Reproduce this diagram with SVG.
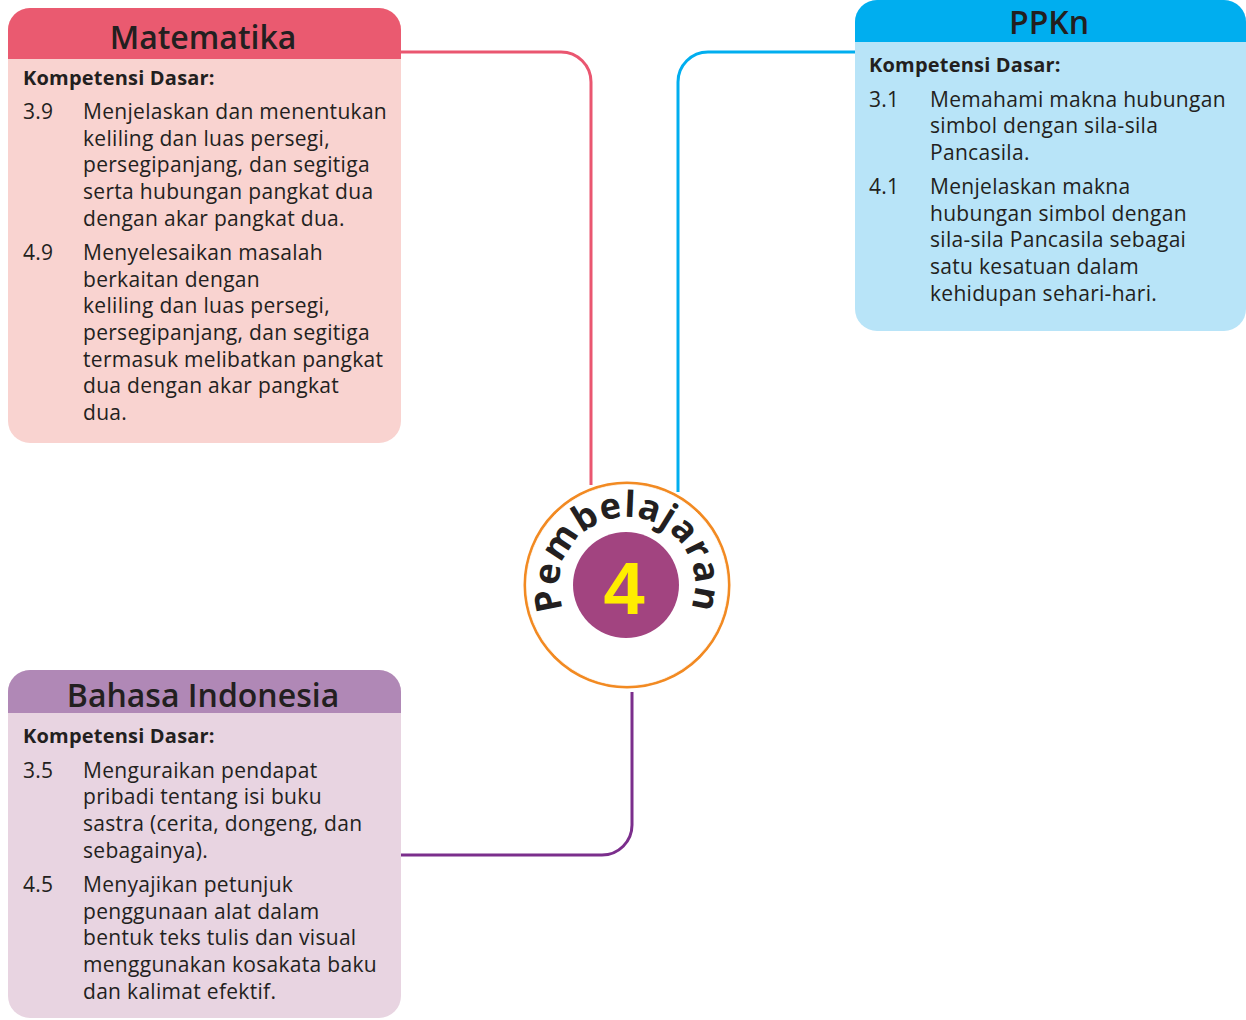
<svg xmlns="http://www.w3.org/2000/svg" width="1246" height="1020" viewBox="0 0 1246 1020">
<defs>
<style>
.hd{font-family:"Open Sans","Noto Sans",sans-serif;font-weight:600;font-size:32px;fill:#231f20;text-anchor:middle}
.kd{font-family:"Open Sans","Noto Sans",sans-serif;font-weight:700;font-size:20px;letter-spacing:0.2px;fill:#231f20}
.tx{font-family:"Open Sans","Noto Sans",sans-serif;font-size:21px;letter-spacing:0.3px;fill:#231f20}
.ln{fill:none;stroke-width:3}
</style>
<path id="arc" d="M 563.1 608.3 A 68 68 0 1 1 690.9 608.3"/>
</defs>
<g id="connectors">
<path class="ln" stroke="#EA5670" d="M 401 52 H 561 A 30 30 0 0 1 591 82 V 485"/>
<path class="ln" stroke="#00AEEF" d="M 855 52 H 708 A 30 30 0 0 0 678 82 V 492"/>
<path class="ln" stroke="#7B2E8C" d="M 632 692 V 825 A 30 30 0 0 1 602 855 H 401"/>
</g>
<g id="matematika">
<rect x="8" y="8" width="393" height="435" rx="22" fill="#F9D3D0"/>
<path d="M 8 59 V 30 A 22 22 0 0 1 30 8 H 379 A 22 22 0 0 1 401 30 V 59 Z" fill="#EA5A70"/>
<text class="hd" x="203" y="49">Matematika</text>
<text class="kd" x="23" y="85">Kompetensi Dasar:</text>
<text class="tx" x="23" y="119">3.9</text>
<text class="tx"><tspan x="83" y="119">Menjelaskan dan menentukan</tspan><tspan x="83" y="146">keliling dan luas persegi,</tspan><tspan x="83" y="172">persegipanjang, dan segitiga</tspan><tspan x="83" y="199">serta hubungan pangkat dua</tspan><tspan x="83" y="226">dengan akar pangkat dua.</tspan></text>
<text class="tx" x="23" y="260">4.9</text>
<text class="tx"><tspan x="83" y="260">Menyelesaikan masalah</tspan><tspan x="83" y="287">berkaitan dengan</tspan><tspan x="83" y="313">keliling dan luas persegi,</tspan><tspan x="83" y="340">persegipanjang, dan segitiga</tspan><tspan x="83" y="367">termasuk melibatkan pangkat</tspan><tspan x="83" y="393">dua dengan akar pangkat</tspan><tspan x="83" y="420">dua.</tspan></text>
</g>
<g id="ppkn">
<rect x="855" y="0" width="391" height="331" rx="22" fill="#B8E4F8"/>
<path d="M 855 42 V 22 A 22 22 0 0 1 877 0 H 1224 A 22 22 0 0 1 1246 22 V 42 Z" fill="#00AEEF"/>
<text class="hd" x="1049" y="34">PPKn</text>
<text class="kd" x="869" y="72">Kompetensi Dasar:</text>
<text class="tx" x="869" y="107">3.1</text>
<text class="tx"><tspan x="930" y="107">Memahami makna hubungan</tspan><tspan x="930" y="133">simbol dengan sila-sila</tspan><tspan x="930" y="160">Pancasila.</tspan></text>
<text class="tx" x="869" y="194">4.1</text>
<text class="tx"><tspan x="930" y="194">Menjelaskan makna</tspan><tspan x="930" y="221">hubungan simbol dengan</tspan><tspan x="930" y="247">sila-sila Pancasila sebagai</tspan><tspan x="930" y="274">satu kesatuan dalam</tspan><tspan x="930" y="301">kehidupan sehari-hari.</tspan></text>
</g>
<g id="bahasa">
<rect x="8" y="670" width="393" height="348" rx="22" fill="#E8D4E1"/>
<path d="M 8 713 V 692 A 22 22 0 0 1 30 670 H 379 A 22 22 0 0 1 401 692 V 713 Z" fill="#B088B6"/>
<text class="hd" x="203" y="707">Bahasa Indonesia</text>
<text class="kd" x="23" y="743">Kompetensi Dasar:</text>
<text class="tx" x="23" y="778">3.5</text>
<text class="tx"><tspan x="83" y="778">Menguraikan pendapat</tspan><tspan x="83" y="804">pribadi tentang isi buku</tspan><tspan x="83" y="831">sastra (cerita, dongeng, dan</tspan><tspan x="83" y="858">sebagainya).</tspan></text>
<text class="tx" x="23" y="892">4.5</text>
<text class="tx"><tspan x="83" y="892">Menyajikan petunjuk</tspan><tspan x="83" y="919">penggunaan alat dalam</tspan><tspan x="83" y="945">bentuk teks tulis dan visual</tspan><tspan x="83" y="972">menggunakan kosakata baku</tspan><tspan x="83" y="999">dan kalimat efektif.</tspan></text>
</g>
<g id="pembelajaran">
<circle cx="627" cy="585" r="102" fill="#fff" stroke="#F28A22" stroke-width="3"/>
<circle cx="627" cy="585" r="100.5" fill="none" stroke="#fff" stroke-width="0.8"/>
<circle cx="626" cy="585" r="53" fill="#A24480"/>
<text x="624" y="614" font-family="'Liberation Sans',sans-serif" font-weight="700" font-size="74" fill="#FFED00" text-anchor="middle">4</text>
<text font-family="'Open Sans','DejaVu Sans',sans-serif" font-weight="700" font-size="36" fill="#231f20" letter-spacing="1"><textPath href="#arc" startOffset="50%" text-anchor="middle">Pembelajaran</textPath></text>
</g>
</svg>
